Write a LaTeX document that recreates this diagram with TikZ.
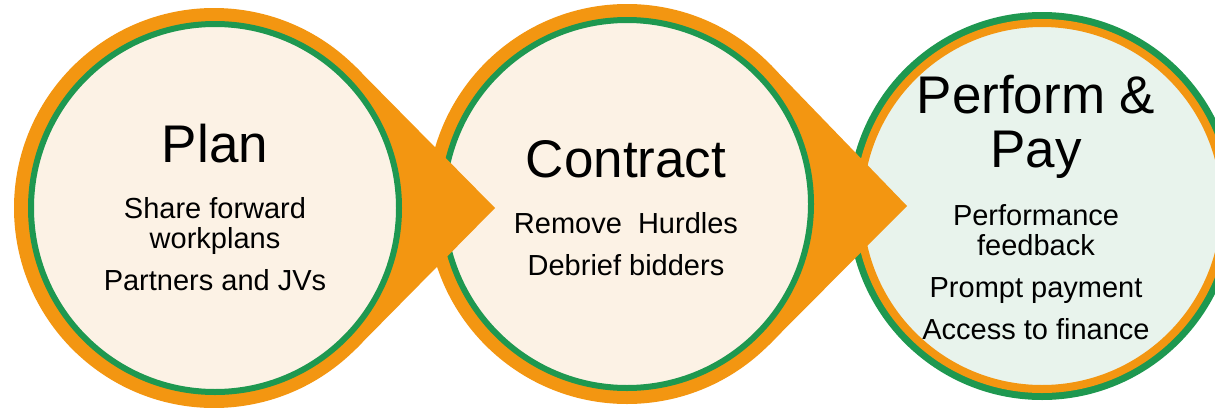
\documentclass[tikz,border=0pt]{standalone}
\usepackage{fontspec}
\setmainfont{Liberation Sans}
\usetikzlibrary{calc,positioning}
\definecolor{ringorange}{RGB}{243,150,17}
\definecolor{ringgreen}{RGB}{30,152,80}
\definecolor{creamfill}{RGB}{252,242,229}
\definecolor{mintfill}{RGB}{232,243,236}
\begin{document}
\begin{tikzpicture}[x=1pt, y=-1pt,
        halo/.style={circle, fill=ringorange, minimum size=400pt, inner sep=0pt, outer sep=0pt},
        core/.style={circle, draw=ringgreen, line width=6pt, fill=creamfill, minimum size=368pt, inner sep=0pt, outer sep=0pt},
        lasthalo/.style={circle, fill=ringgreen, minimum size=388pt, inner sep=0pt, outer sep=0pt},
        lastcore/.style={circle, draw=ringorange, line width=8pt, fill=mintfill, minimum size=366pt, inner sep=0pt, outer sep=0pt},
        title/.style={anchor=base, inner sep=0pt, font=\fontsize{53}{53}\selectfont},
        point/.style={anchor=base, inner sep=0pt, font=\fontsize{29}{30}\selectfont},
    ]
    \useasboundingbox (0,0) rectangle (1215,407);

    % third stage
    \node[lasthalo] (payhalo) at (1042,206) {};
    \node[lastcore] (pay) at (payhalo.center) {};
    \node[title] (paytitle) at (1036,113) {Perform \&};
    \node[title] (paytitleb) at (1036,167) {Pay};
    \foreach \txt/\yy [count=\i] in {Performance/225, feedback/255, Prompt payment/297, Access to finance/339}
        \node[point] (pay-\i) at (1036,\yy) {\txt};

    % second stage
    \node[halo] (contracthalo) at (627,204) {};
    \coordinate (tipb) at (907,206);
    \fill[ringorange] (tipb) -- (tangent cs:node=contracthalo,point={(tipb)},solution=1)
        -- (contracthalo.center) -- (tangent cs:node=contracthalo,point={(tipb)},solution=2) -- cycle;
    \node[core] (contract) at (contracthalo.center) {};
    \node[title] (contracttitle) at (626,177) {Contract};
    \foreach \txt/\yy [count=\i] in {Remove\ \ Hurdles/233, Debrief bidders/275}
        \node[point] (contract-\i) at (626,\yy) {\txt};

    % first stage
    \node[halo] (planhalo) at (214,208) {};
    \coordinate (tipa) at (495,208);
    \fill[ringorange] (tipa) -- (tangent cs:node=planhalo,point={(tipa)},solution=1)
        -- (planhalo.center) -- (tangent cs:node=planhalo,point={(tipa)},solution=2) -- cycle;
    \node[core] (plan) at (215,208) {};
    \node[title] (plantitle) at (215,162) {Plan};
    \foreach \txt/\yy [count=\i] in {Share forward/218, workplans/248, Partners and JVs/290}
        \node[point] (plan-\i) at (215,\yy) {\txt};
\end{tikzpicture}
\end{document}
